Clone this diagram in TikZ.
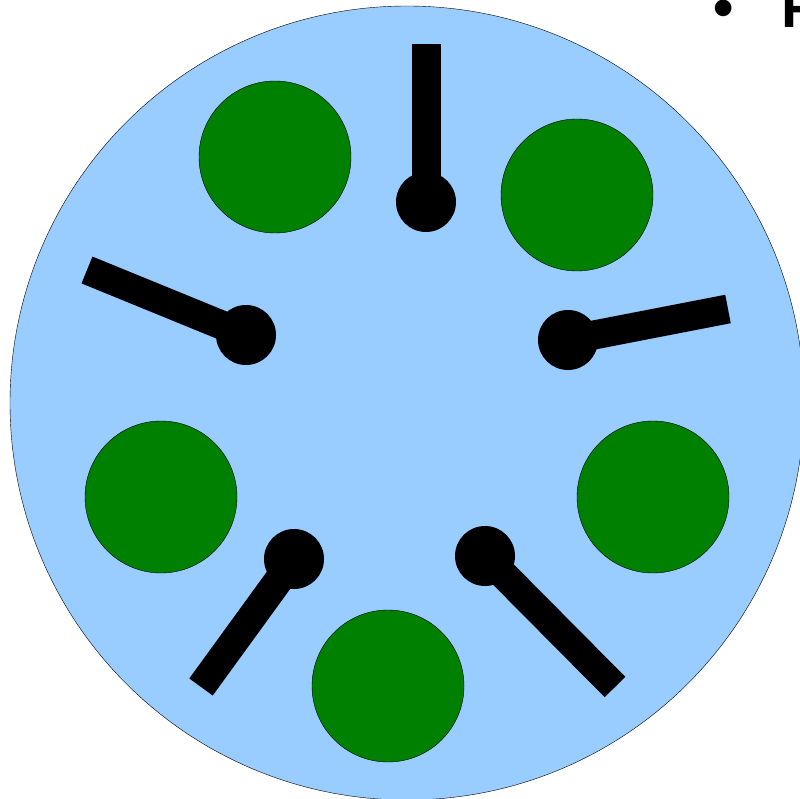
\documentclass[tikz,border=0pt]{standalone}
\usepackage{fontspec}
\setmainfont{Liberation Sans}
\definecolor{dBlue}{HTML}{99CCFF}
\definecolor{dGreen}{HTML}{008000}
\usetikzlibrary{positioning}

\begin{document}
\begin{tikzpicture}[x=1pt, y=-1pt,
  hole/.style={circle, draw=black, thin, fill=dGreen, minimum size=152pt, inner sep=0pt},
  pinhead/.style={circle, fill=black, minimum size=60pt, inner sep=0pt},
  bar/.style={line width=29pt, black}]
  \useasboundingbox (0,0) rectangle (799,799);
  % disc
  \node[circle, draw=black, thin, fill=dBlue, minimum size=794pt, inner sep=0pt] (disc) at (407,403) {};
  % green holes
  \node[hole] (h1) at (275,157) {};
  \node[hole] (h2) at (577,195) {};
  \node[hole] (h3) at (161,497) {};
  \node[hole] (h4) at (653,497) {};
  \node[hole] (h5) at (388,686) {};
  % pins with their bars
  \foreach \n/\p/\e in {1/{426,202}/{426,44}, 2/{246,335}/{87,270},
      3/{568,340}/{728,309}, 4/{294,559}/{201,687}, 5/{485,556}/{615,687}}{
    \node[pinhead] (p\n) at (\p) {};
    \coordinate (e\n) at (\e);
    \draw[bar] (e\n) -- (p\n.center);}
  % cut-off bullet line
  \node[font=\bfseries\fontsize{58}{60}\selectfont, anchor=base west, inner sep=0pt] (dot) at (713,28) {•};
  \node[font=\bfseries\fontsize{58}{60}\selectfont, anchor=base west, inner sep=0pt] (word) at (781,28) {F};
\end{tikzpicture}
\end{document}
